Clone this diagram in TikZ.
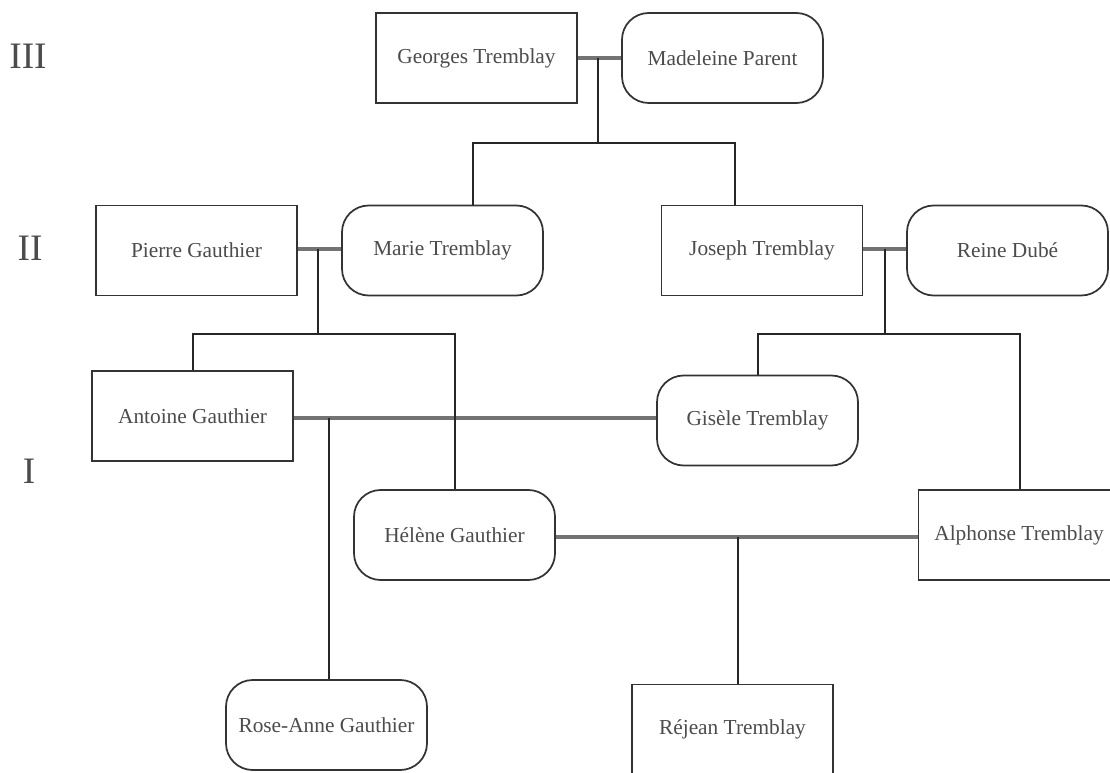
\documentclass[tikz,border=0pt]{standalone}
\usepackage{fontspec}
\setmainfont{Liberation Serif}
\usetikzlibrary{calc}
\begin{document}
\begin{tikzpicture}[x=0.75pt,y=-0.75pt,
  person/.style={draw=black!80,line width=1.3pt,minimum width=150.75pt,minimum height=67.5pt,inner sep=0pt,
     font=\fontsize{16}{18}\selectfont,text=black!70,fill=white},
  male/.style={person},
  female/.style={person,rounded corners=20pt},
  marriage/.style={draw=black!55,line width=2.4pt},
  descent/.style={draw=black!85,line width=1.1pt},
  gen/.style={font=\fontsize{28}{30}\selectfont,text=black!70}]
\useasboundingbox (0,0) rectangle (1110,773);
\begin{scope}
\clip (0,0) rectangle (1110,773);
% generation labels
\node[gen] (g3) at (28,56) {III};
\node[gen] (g2) at (30,248) {II};
\node[gen] (g1) at (29,471) {I};
% persons
\node[male] (G) at (476.5,58) {Georges Tremblay};
\node[female] (M) at (722.5,58) {Madeleine Parent};
\node[male] (P) at (196.5,250.5) {Pierre Gauthier};
\node[female] (Ma) at (442.5,250.5) {Marie Tremblay};
\node[male] (J) at (762,250.5) {Joseph Tremblay};
\node[female] (R) at (1007.5,250.5) {Reine Dubé};
\node[male] (A) at (192.5,416) {Antoine Gauthier};
\node[female] (Gi) at (757.5,420.5) {Gisèle Tremblay};
\node[female] (H) at (454.5,535) {Hélène Gauthier};
\node[male] (Al) at (1019,535) {Alphonse Tremblay};
\node[female] (RA) at (326.5,725) {Rose-Anne Gauthier};
\node[male] (Re) at (732.5,729.5) {Réjean Tremblay};
% helper coordinates
\coordinate (gm) at (598,58);
\coordinate (gmb) at (598,143);
\coordinate (pm) at (318,249);
\coordinate (pmb) at (318,334);
\coordinate (jr) at (885,249);
\coordinate (jrb) at (885,334);
\coordinate (ag) at (329,418);
\coordinate (ha) at (738,537);
% marriages
\draw[marriage] (G.east |- gm) -- (M.west |- gm);
\draw[marriage] (P.east |- pm) -- (Ma.west |- pm);
\draw[marriage] (J.east |- jr) -- (R.west |- jr);
\draw[marriage] (A.east |- ag) -- (Gi.west |- ag);
\draw[marriage] (H.east |- ha) -- (Al.west |- ha);
% descent
\draw[descent] (gm) -- (gmb);
\draw[descent] (Ma.north -| 473,0) |- (gmb) -| (J.north -| 735,0);
\draw[descent] (pm) -- (pmb);
\draw[descent] (A.north -| 193,0) |- (pmb) -| (H.north -| 455,0);
\draw[descent] (jr) -- (jrb);
\draw[descent] (Gi.north -| 758,0) |- (jrb) -| (Al.north -| 1020,0);
\draw[descent] (ag) -- (RA.north -| ag);
\draw[descent] (ha) -- (Re.north -| ha);
\end{scope}
\end{tikzpicture}
\end{document}
